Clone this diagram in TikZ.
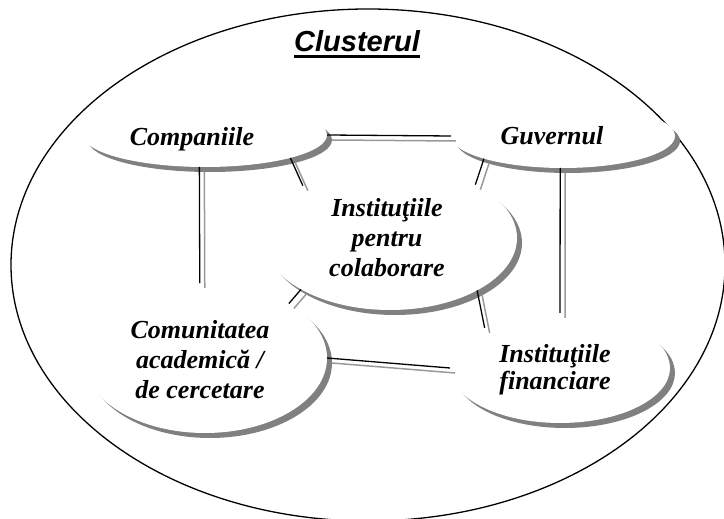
\documentclass[tikz,border=0pt]{standalone}
\usepackage{fontspec}
\setmainfont{Liberation Serif}
\newfontfamily\arialfont{Liberation Sans}
\usetikzlibrary{shapes.geometric,shadows}
\tikzset{
  blob/.style={ellipse, fill=white, inner sep=0pt, outer sep=0pt,
    drop shadow={shadow xshift=5pt, shadow yshift=-5pt, fill=black!50, opacity=1}},
  lbl/.style={font=\fontsize{26}{30}\selectfont\bfseries\itshape, align=center, inner sep=0pt},
  link/.style={line width=1.3pt, black},
  linkshade/.style={line width=1.5pt, black!40},
  frame/.style={draw, ellipse, line width=1.3pt, inner sep=0pt, outer sep=0pt},
}
\newcommand{\twinline}[2]{%
  \draw[linkshade] ([shift={(5pt,-5pt)}]#1) -- ([shift={(5pt,-5pt)}]#2);
  \draw[link] (#1) -- (#2);}
\begin{document}
\begin{tikzpicture}[x=1pt,y=1pt]
\useasboundingbox (0,0) rectangle (724,519);
\clip (0,0) rectangle (724,519);
\node[frame, minimum width=714pt, minimum height=512pt] (cluster) at (368,254) {};
\node[font=\arialfont\fontsize{29}{34}\selectfont\bfseries\itshape, inner sep=0pt, anchor=base] (title) at (357,467) {Clusterul};
\draw[line width=3.3pt] ([yshift=-4.5pt]title.base west) -- ([yshift=-4.5pt]title.base east);

\node[blob, minimum width=244pt, minimum height=64pt] (comp) at (205,384) {};
\node[blob, minimum width=224pt, minimum height=64pt] (guv) at (563,383) {};
\node[blob, minimum width=254pt, minimum height=144pt] (inst) at (390,281) {};
\node[blob, minimum width=244pt, minimum height=150pt] (comu) at (205,161) {};
\node[blob, minimum width=220pt, minimum height=110pt] (fin) at (560,151) {};

\twinline{comp.east}{guv.west}
\twinline{comp.-15.5}{inst.149.5}
\twinline{comp.-100.6}{comu.94.6}
\twinline{guv.196.5}{inst.32.3}
\twinline{guv.-95.4}{fin.90}
\twinline{comu.33.5}{inst.210.4}
\twinline{comu.east}{fin.west}
\twinline{inst.-31.8}{fin.152.9}

\node[lbl] (compt) at (192,380) {Companiile};
\node[lbl] (guvt) at (552,383) {Guvernul};
\node[lbl] (instt) at (387,281) {Instituţiile\\pentru\\colaborare};
\node[lbl] (comut) at (200,159) {Comunitatea\\academică /\\de cercetare};
\node[lbl, font=\fontsize{26}{27}\selectfont\bfseries\itshape] (fint) at (555,149.5) {Instituţiile\\financiare};
\end{tikzpicture}
\end{document}
